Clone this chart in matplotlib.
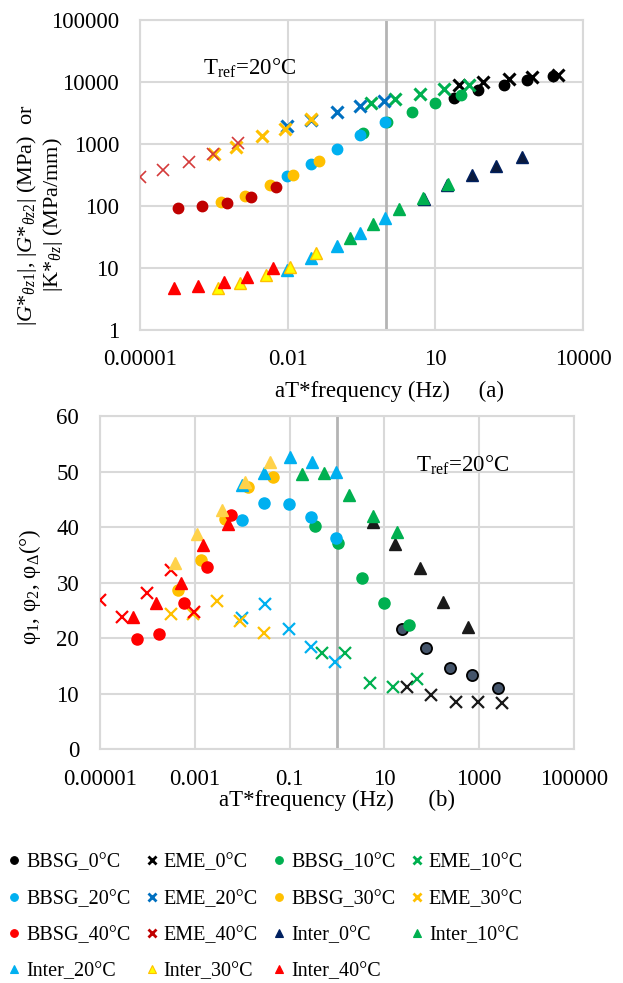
import matplotlib.pyplot as plt
from matplotlib.lines import Line2D

plt.rcParams['font.family'] = ['Liberation Serif', 'DejaVu Serif']
plt.rcParams['mathtext.fontset'] = 'custom'
plt.rcParams['mathtext.rm'] = 'Liberation Serif'
plt.rcParams['mathtext.it'] = 'Liberation Serif:italic'

# reduced frequency aT*f (Hz), |modulus| (MPa or MPa/mm) and phase angle (deg)
bbsg_0_f = [23.7, 75, 245, 715, 2500]
bbsg_0_mod = [5560, 7350, 9080, 10770, 12360]
bbsg_0_phi = [21.6, 18.2, 14.6, 13.4, 11.0]

eme_0_f = [30.5, 94, 320, 940, 3070]
eme_0_mod = [8950, 10100, 10970, 11830, 13100]
eme_0_phi = [11.3, 9.8, 8.6, 8.6, 8.3]

bbsg_10_f = [0.338, 1.05, 3.4, 10.05, 33]
bbsg_10_mod = [1490, 2250, 3260, 4580, 6170]
bbsg_10_phi = [40.2, 37.2, 30.8, 26.4, 22.3]

eme_10_f = [0.485, 1.5, 4.87, 15, 49]
eme_10_mod = [4530, 5400, 6360, 7770, 8790]
eme_10_phi = [17.3, 17.3, 11.9, 11.3, 12.6]

bbsg_20_f = [0.0099, 0.0293, 0.099, 0.29, 0.968]
bbsg_20_mod = [310, 484, 815, 1370, 2220]
bbsg_20_phi = [41.2, 44.4, 44.2, 41.8, 38.0]

eme_20_f = [0.0097, 0.03, 0.099, 0.29, 0.92]
eme_20_mod = [1950, 2480, 3220, 4030, 4940]
eme_20_phi = [23.6, 26.2, 21.7, 18.5, 15.7]

bbsg_30_f = [4.35e-4, 1.34e-3, 4.28e-3, 0.013, 0.0443]
bbsg_30_mod = [118, 146, 218, 316, 532]
bbsg_30_phi = [28.7, 34.1, 41.5, 47.3, 49.1]

eme_30_f = [3.12e-4, 9.0e-4, 2.98e-3, 9.0e-3, 0.0293]
eme_30_mod = [682, 904, 1346, 1726, 2500]
eme_30_phi = [24.3, 24.3, 26.7, 23.1, 20.9]

bbsg_40_f = [6.0e-5, 1.78e-4, 5.8e-4, 1.78e-3, 5.8e-3]
bbsg_40_mod = [91.8, 100, 113, 141, 205]
bbsg_40_phi = [19.9, 20.8, 26.4, 32.9, 42.2]

eme_40_f = [1.0e-5, 2.95e-5, 9.8e-5, 3.08e-4, 9.8e-4]
eme_40_mod = [297, 380, 519, 682, 1050]
eme_40_phi = [26.9, 23.9, 28.1, 32.2, 24.7]

inter_0_f = [5.8, 17, 56, 169, 570]
inter_0_mod = [130, 218, 316, 445, 610]
inter_0_phi = [40.9, 36.9, 32.6, 26.6, 22.0]

inter_10_f = [0.186, 0.545, 1.82, 5.72, 18.4]
inter_10_mod = [30.1, 50.3, 88.4, 134.6, 229]
inter_10_phi = [49.6, 49.8, 45.7, 42.0, 39.2]

inter_20_f = [0.0099, 0.0293, 0.1, 0.296, 0.968]
inter_20_mod = [9.3, 14.3, 22.4, 36.3, 64.5]
inter_20_phi = [47.6, 49.7, 52.7, 51.8, 50.0]

inter_30_f = [3.85e-4, 1.1e-3, 3.67e-3, 0.0112, 0.0377]
inter_30_mod = [4.8, 5.7, 7.7, 10.5, 17.5]
inter_30_phi = [33.6, 38.7, 43.1, 48.1, 51.8]

inter_40_f = [4.9e-5, 1.51e-4, 5.0e-4, 1.48e-3, 5.03e-3]
inter_40_mod = [4.7, 5.1, 6.0, 7.2, 9.9]
inter_40_phi = [23.9, 26.4, 29.9, 36.8, 40.5]

names = ["BBSG_0°C", "EME_0°C", "BBSG_10°C", "EME_10°C", "BBSG_20°C",
         "EME_20°C", "BBSG_30°C", "EME_30°C", "BBSG_40°C", "EME_40°C",
         "Inter_0°C", "Inter_10°C", "Inter_20°C", "Inter_30°C", "Inter_40°C"]
freqs = [bbsg_0_f, eme_0_f, bbsg_10_f, eme_10_f, bbsg_20_f, eme_20_f,
         bbsg_30_f, eme_30_f, bbsg_40_f, eme_40_f, inter_0_f, inter_10_f,
         inter_20_f, inter_30_f, inter_40_f]
moduli = [bbsg_0_mod, eme_0_mod, bbsg_10_mod, eme_10_mod, bbsg_20_mod,
          eme_20_mod, bbsg_30_mod, eme_30_mod, bbsg_40_mod, eme_40_mod,
          inter_0_mod, inter_10_mod, inter_20_mod, inter_30_mod, inter_40_mod]
phases = [bbsg_0_phi, eme_0_phi, bbsg_10_phi, eme_10_phi, bbsg_20_phi,
          eme_20_phi, bbsg_30_phi, eme_30_phi, bbsg_40_phi, eme_40_phi,
          inter_0_phi, inter_10_phi, inter_20_phi, inter_30_phi, inter_40_phi]

top_xticks = [1e-5, 1e-2, 10, 1e4]
top_xlabels = ["0.00001", "0.01", "10", "10000"]
top_yticks = [1, 10, 100, 1000, 10000, 100000]
top_ylabels = ["1", "10", "100", "1000", "10000", "100000"]
bot_xticks = [1e-5, 1e-3, 0.1, 10, 1000, 1e5]
bot_xlabels = ["0.00001", "0.001", "0.1", "10", "1000", "100000"]
bot_yticks = [0, 10, 20, 30, 40, 50, 60]

# marker, face, edge, size, edge width
top_style = [
    ('o', 'black', 'black', 7.5, 1), ('x', 'black', 'black', 8, 2.2),
    ('o', '#00B050', '#00B050', 7.5, 1), ('x', '#00B050', '#00B050', 8, 2.2),
    ('o', '#00B0F0', '#00B0F0', 7.5, 1), ('x', '#0070C0', '#0070C0', 8, 2.2),
    ('o', '#FFC000', '#FFC000', 7.5, 1), ('x', '#FFC000', '#FFC000', 8, 2.2),
    ('o', '#C00000', '#C00000', 7.5, 1), ('x', '#D43A3A', '#D43A3A', 9, 1.2),
    ('^', '#0B1A3C', '#002060', 8, 1), ('^', '#00B050', '#00B050', 8, 1),
    ('^', '#00B0F0', '#00B0F0', 8, 1), ('^', '#FFFF00', '#FFC000', 8, 1),
    ('^', '#FF0000', '#FF0000', 8, 1)]
bot_style = [
    ('o', '#44546A', 'black', 8, 1.3), ('x', '#1A1A1A', '#1A1A1A', 8, 1.6),
    ('o', '#00B050', '#00B050', 8, 1), ('x', '#00B050', '#00B050', 8, 1.6),
    ('o', '#00B0F0', '#00B0F0', 8, 1), ('x', '#00B0F0', '#00B0F0', 8, 1.6),
    ('o', '#FFC000', '#FFC000', 8, 1), ('x', '#FFC000', '#FFC000', 8, 1.6),
    ('o', '#FF0000', '#FF0000', 8, 1), ('x', '#FF0000', '#FF0000', 8, 1.6),
    ('^', '#1A1A1A', '#1A1A1A', 8.5, 1), ('^', '#00B050', '#00B050', 8.5, 1),
    ('^', '#00B0F0', '#00B0F0', 8.5, 1), ('^', '#FFD24A', '#FFD24A', 8.5, 1),
    ('^', '#FF0000', '#FF0000', 8.5, 1)]
legend_style = [
    ('o', 'black'), ('x', 'black'), ('o', '#00B050'), ('x', '#00B050'),
    ('o', '#00B0F0'), ('x', '#0070C0'), ('o', '#FFC000'), ('x', '#FFC000'),
    ('o', '#FF0000'), ('x', '#C00000'), ('^', '#002060'), ('^', '#00B050'),
    ('^', '#00B0F0'), ('^', '#FFFF00'), ('^', '#FF0000')]

GRID = '#D9D9D9'
FS = 16.5


def excel_axes(ax):
    for s in ax.spines.values():
        s.set_color(GRID)
        s.set_linewidth(1.5)
    ax.grid(True, color=GRID, linewidth=1.5, zorder=0)
    ax.set_axisbelow(True)
    ax.minorticks_off()
    ax.tick_params(length=0, labelsize=FS)
    ax.tick_params(axis='x', pad=14)
    ax.tick_params(axis='y', pad=15)
    # darker line at 1 Hz
    ax.axvline(1, color='#B4B4B4', linewidth=2, zorder=1)


fig = plt.figure(figsize=(6.23, 9.83), dpi=100)

# (a) modulus
ax1 = fig.add_axes([0.2247, 0.6643, 0.7111, 0.3154])
for i in range(len(names)):
    m, fc, ec, ms, mew = top_style[i]
    ax1.plot(freqs[i], moduli[i], linestyle='none', marker=m, color=fc,
             markerfacecolor=fc, markeredgecolor=ec, markersize=ms,
             markeredgewidth=mew, zorder=3)
ax1.set_xscale('log')
ax1.set_yscale('log')
ax1.set_xlim(1e-5, 1e4)
ax1.set_ylim(1, 1e5)
excel_axes(ax1)
ax1.set_xticks(top_xticks)
ax1.set_xticklabels(top_xlabels)
ax1.set_yticks(top_yticks)
ax1.set_yticklabels(top_ylabels)
ax1.minorticks_off()
ax1.set_xlabel("aT*frequency (Hz)     (a)", fontsize=FS, va='top')
ax1.xaxis.set_label_coords(0.564, -0.165)
ax1.set_ylabel("|$G$*$_{\\theta z1}$|, |$G$*$_{\\theta z2}$| (MPa)  or\n"
               "|K*$_{\\theta z}$| (MPa/mm)", fontsize=16, va='center',
               ma='center', linespacing=1.15)
ax1.yaxis.set_label_coords(-0.226, 0.371)
ax1.text(0.248, 0.845, "T$_{\\rm ref}$=20°C", transform=ax1.transAxes,
         fontsize=FS, ha='center', va='center')

# (b) phase angle
ax2 = fig.add_axes([0.1605, 0.2377, 0.7608, 0.3391])
for i in range(len(names)):
    m, fc, ec, ms, mew = bot_style[i]
    ax2.plot(freqs[i], phases[i], linestyle='none', marker=m, color=fc,
             markerfacecolor=fc, markeredgecolor=ec, markersize=ms,
             markeredgewidth=mew, zorder=3)
ax2.set_xscale('log')
ax2.set_xlim(1e-5, 1e5)
ax2.set_ylim(0, 60)
excel_axes(ax2)
ax2.set_xticks(bot_xticks)
ax2.set_xticklabels(bot_xlabels)
ax2.set_yticks(bot_yticks)
ax2.minorticks_off()
ax2.set_xlabel("aT*frequency (Hz)      (b)", fontsize=FS, va='top')
ax2.xaxis.set_label_coords(0.5, -0.122)
ax2.set_ylabel("φ$_1$, φ$_2$, φ$_\\Delta$(°)", fontsize=FS, va='center')
ax2.yaxis.set_label_coords(-0.148, 0.487)
ax2.text(0.766, 0.853, "T$_{\\rm ref}$=20°C", transform=ax2.transAxes,
         fontsize=FS, ha='center', va='center')

# legend, row-major like the original (4 columns)
handles = []
for i in range(len(names)):
    m, c = legend_style[i]
    ec = '#FFC000' if names[i] == "Inter_30°C" else c
    handles.append(Line2D([], [], linestyle='none', marker=m, color=c,
                          markerfacecolor=c, markeredgecolor=ec,
                          markersize=5.5, markeredgewidth=2 if m == 'x' else 0.8,
                          label=names[i]))
blank = Line2D([], [], linestyle='none', label=' ')
order = [0, 4, 8, 12, 1, 5, 9, 13, 2, 6, 10, 14, 3, 7, 11]
leg_h = [handles[k] for k in order] + [blank]
fig.legend(handles=leg_h, loc='upper left', bbox_to_anchor=(0.0, 0.140),
           ncol=4, frameon=False, fontsize=14.5, handlelength=0.6,
           handletextpad=0.3, columnspacing=0.75, labelspacing=0.85,
           borderaxespad=0)

fig.savefig("out.png", dpi=100)
